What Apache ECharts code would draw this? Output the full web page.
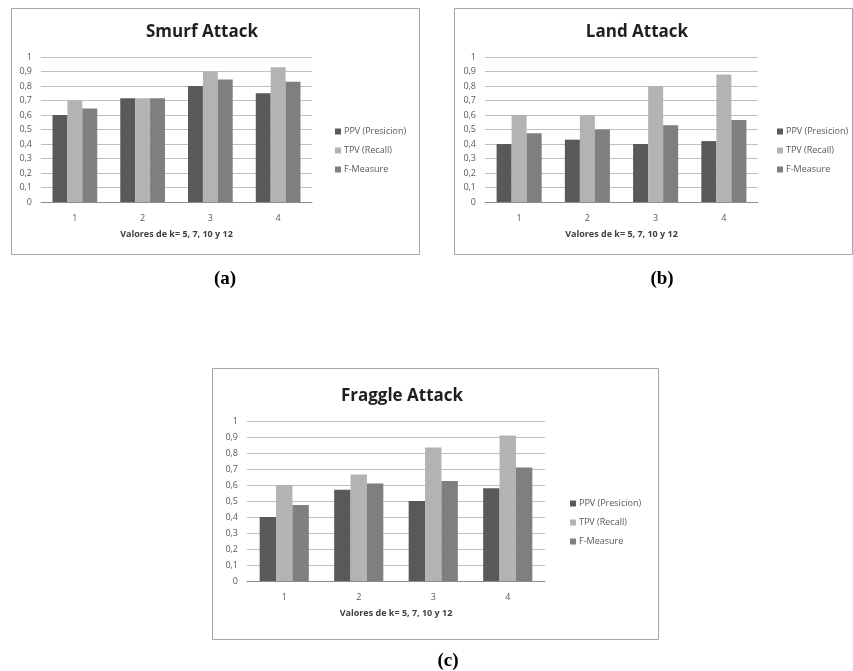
<!DOCTYPE html>
<html>
<head>
<meta charset="utf-8">
<script src="https://cdn.jsdelivr.net/npm/echarts@6/dist/echarts.min.js"></script>
<style>
  html, body { margin: 0; padding: 0; background: #fff; }
  #chart { width: 853px; height: 671px; }
</style>
</head>
<body>
<div id="chart"></div>
<script>
(function () {
  "use strict";
  const chart = echarts.init(document.getElementById("chart"));

  // valores
  const categories = ["1", "2", "3", "4"];
  const seriesNames = ["PPV (Presicion)", "TPV (Recall)", "F-Measure"];
  const colors = ["#595959", "#b3b3b3", "#7f7f7f"];

  const smurfPPV = [0.60, 0.715, 0.80, 0.75];
  const smurfTPV = [0.70, 0.715, 0.90, 0.93];
  const smurfF = [0.645, 0.715, 0.845, 0.83];

  const landPPV = [0.40, 0.43, 0.40, 0.42];
  const landTPV = [0.60, 0.60, 0.80, 0.88];
  const landF = [0.475, 0.50, 0.53, 0.565];

  const fragglePPV = [0.40, 0.57, 0.50, 0.58];
  const fraggleTPV = [0.60, 0.665, 0.835, 0.91];
  const fraggleF = [0.475, 0.61, 0.625, 0.71];

  const panels = [
    { title: "Smurf Attack", caption: "(a)", data: [smurfPPV, smurfTPV, smurfF],
      box: [11, 8, 408, 246], grid: [41, 57, 271, 145], titleX: 197, titleY: 19,
      legend: [330, 122], captionX: 220, captionY: 265 },
    { title: "Land Attack", caption: "(b)", data: [landPPV, landTPV, landF],
      box: [454, 8, 398, 246], grid: [485, 57, 273, 145], titleX: 632, titleY: 19,
      legend: [772, 122], captionX: 657, captionY: 265 },
    { title: "Fraggle Attack", caption: "(c)", data: [fragglePPV, fraggleTPV, fraggleF],
      box: [212, 368, 446, 271], grid: [247, 421, 298, 160], titleX: 397, titleY: 383,
      legend: [565, 494], captionX: 443, captionY: 647 },
  ];

  const yFmt = v => (v === 0 || v === 1) ? String(v) : v.toFixed(1).replace(".", ",");
  const font = "'Open Sans', 'Liberation Sans', sans-serif";

  const option = {
    animation: false,
    backgroundColor: "#fff",
    title: [],
    legend: [],
    grid: [],
    xAxis: [],
    yAxis: [],
    series: [],
    graphic: [],
  };

  panels.forEach((p, i) => {
    option.graphic.push({
      type: "rect", z: -1, silent: true,
      shape: { x: p.box[0] + 0.5, y: p.box[1] + 0.5, width: p.box[2], height: p.box[3] },
      style: { fill: "#fff", stroke: "#a6a6a6", lineWidth: 1 },
    });
    option.title.push({
      text: p.title, left: p.titleX, top: p.titleY, textAlign: "center",
      textStyle: { fontFamily: font, fontSize: 17, fontWeight: "bold", color: "#1f1f1f" },
    });
    option.title.push({
      text: p.caption, left: p.captionX, top: p.captionY, textAlign: "center",
      textStyle: { fontFamily: "'Liberation Serif', serif", fontSize: 19, fontWeight: "bold", color: "#000" },
    });
    option.legend.push({
      orient: "vertical", left: p.legend[0], top: p.legend[1], itemGap: 10,
      itemWidth: 6, itemHeight: 6, icon: "rect", data: seriesNames,
      textStyle: { fontFamily: font, fontSize: 9, color: "#595959", padding: [0, 0, 0, -2] },
    });
    option.grid.push({ left: p.grid[0], top: p.grid[1], width: p.grid[2], height: p.grid[3] });
    option.xAxis.push({
      type: "category", gridIndex: i, data: categories,
      name: "Valores de k= 5, 7, 10 y 12", nameLocation: "middle", nameGap: 28,
      nameTextStyle: { fontFamily: font, fontSize: 9, fontWeight: "bold", color: "#404040" },
      axisLine: { lineStyle: { color: "#8c8c8c" } },
      axisTick: { show: false },
      axisLabel: { fontFamily: font, fontSize: 9, color: "#595959", margin: 12 },
    });
    option.yAxis.push({
      type: "value", gridIndex: i, min: 0, max: 1, interval: 0.1,
      axisLine: { show: false },
      axisTick: { show: false },
      axisLabel: { fontFamily: font, fontSize: 9, color: "#595959", margin: 9, formatter: yFmt },
      splitLine: { lineStyle: { color: "#bfbfbf", width: 1 } },
    });
    p.data.forEach((vals, s) => {
      option.series.push({
        name: seriesNames[s], type: "bar", xAxisIndex: i, yAxisIndex: i,
        data: vals, barGap: "0%", barCategoryGap: "34%",
        itemStyle: { color: colors[s] },
      });
    });
  });

  chart.setOption(option);
})();
</script>
</body>
</html>
